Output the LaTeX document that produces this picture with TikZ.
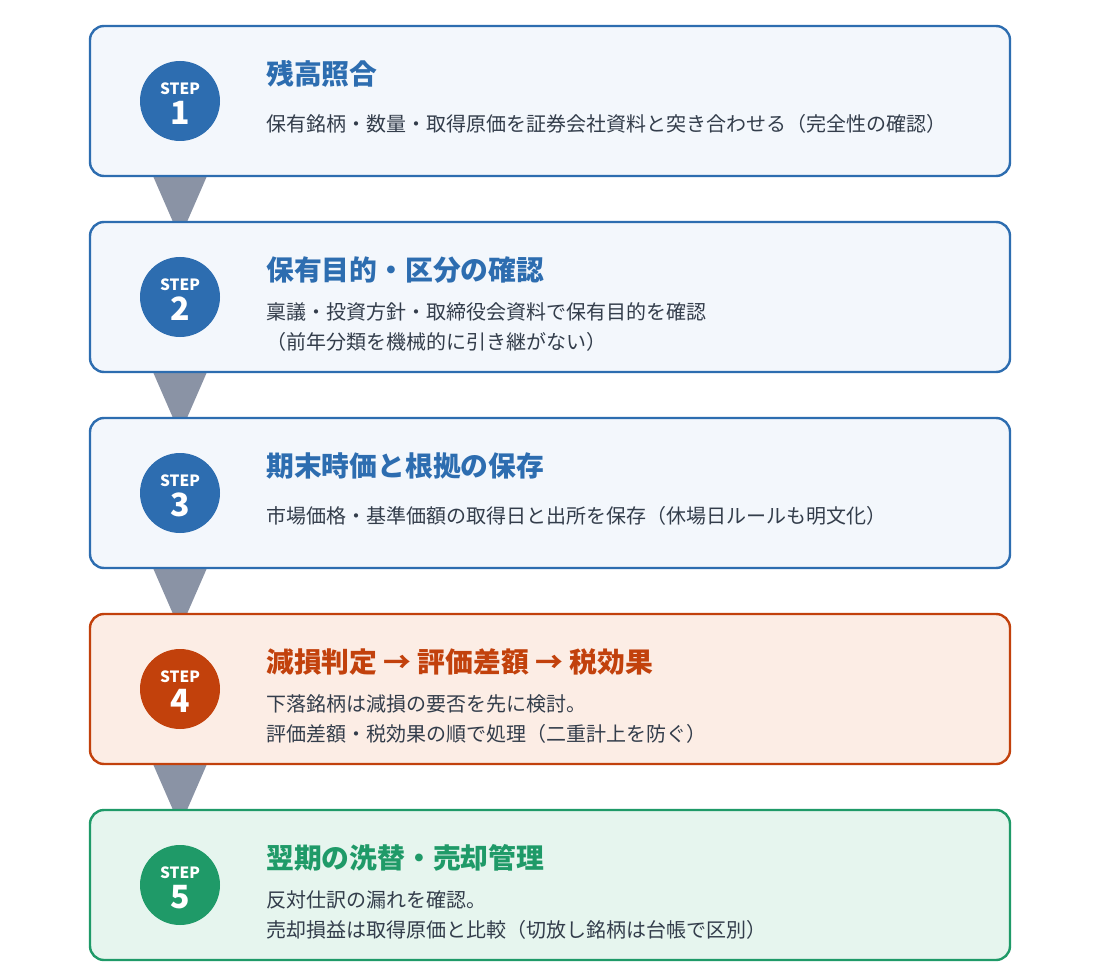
\documentclass[tikz,border=0pt]{standalone}
\usepackage{fontspec}
\setmainfont{Noto Sans CJK JP}
\definecolor{cblue}{HTML}{2D6DB0}
\definecolor{fblue}{HTML}{F3F7FC}
\definecolor{corange}{HTML}{C2410C}
\definecolor{forange}{HTML}{FCEDE5}
\definecolor{cgreen}{HTML}{1F9A68}
\definecolor{fgreen}{HTML}{E6F5EE}
\definecolor{carrow}{HTML}{8A93A5}
\definecolor{ctext}{HTML}{333D4B}
\tikzset{
  stepbox/.style={draw=#1, line width=2.4pt, rounded corners=14pt, minimum width=920pt, minimum height=150pt, inner sep=0pt},
  badge/.style={circle, fill=#1, minimum size=80pt, inner sep=0pt},
  steplbl/.style={text=white, font=\fontsize{15.5}{15.5}\selectfont\bfseries},
  stepnum/.style={text=white, font=\fontsize{32}{32}\selectfont\bfseries},
  titletext/.style={text=#1, anchor=west, inner sep=0pt, font=\fontsize{27.8}{32}\selectfont\bfseries},
  bodytext/.style={text=ctext, anchor=west, inner sep=0pt, align=left, font=\fontsize{20}{30}\selectfont},
  flowarrow/.style={fill=carrow, draw=none}
}
\begin{document}
\begin{tikzpicture}[x=1pt,y=-1pt]
\useasboundingbox[fill=white] (0,0) rectangle (1100,976);
% arrows (behind boxes)
\foreach \i/\y in {a1/176,a2/372,a3/568,a4/764}{
  \coordinate (\i l) at (153,\y);
  \coordinate (\i r) at (207,\y);
  \coordinate (\i t) at (180,\y+62);
  \fill[flowarrow] (\i l) -- (\i r) -- (\i t) -- cycle;
}
% boxes
\node[stepbox=cblue, fill=fblue] (b1) at (550,101) {};
\node[stepbox=cblue, fill=fblue] (b2) at (550,297) {};
\node[stepbox=cblue, fill=fblue] (b3) at (550,493) {};
\node[stepbox=corange, fill=forange] (b4) at (550,689) {};
\node[stepbox=cgreen, fill=fgreen] (b5) at (550,885) {};
% badges
\foreach \n/\y/\c in {1/101/cblue,2/297/cblue,3/493/cblue,4/689/corange,5/885/cgreen}{
  \node[badge=\c] (c\n) at (180,\y) {};
  \node[steplbl] (s\n) at (180,\y-12) {STEP};
  \node[stepnum] (n\n) at (180,\y+12) {\n};
}
% titles
\node[titletext=cblue] (t1) at (266,74) {残高照合};
\node[titletext=cblue] (t2) at (266,270) {保有目的・区分の確認};
\node[titletext=cblue] (t3) at (266,466) {期末時価と根拠の保存};
\node[titletext=corange] (t4) at (266,662) {減損判定 → 評価差額 → 税効果};
\node[titletext=cgreen] (t5) at (266,858) {翌期の洗替・売却管理};
% bodies
\node[bodytext] (d1) at (266,124) {保有銘柄・数量・取得原価を証券会社資料と突き合わせる（完全性の確認）};
\node[bodytext] (d2) at (266,327) {稟議・投資方針・取締役会資料で保有目的を確認\\（前年分類を機械的に引き継がない）};
\node[bodytext] (d3) at (266,516) {市場価格・基準価額の取得日と出所を保存（休場日ルールも明文化）};
\node[bodytext] (d4) at (266,719) {下落銘柄は減損の要否を先に検討。\\評価差額・税効果の順で処理（二重計上を防ぐ）};
\node[bodytext] (d5) at (266,915) {反対仕訳の漏れを確認。\\売却損益は取得原価と比較（切放し銘柄は台帳で区別）};
\end{tikzpicture}
\end{document}
